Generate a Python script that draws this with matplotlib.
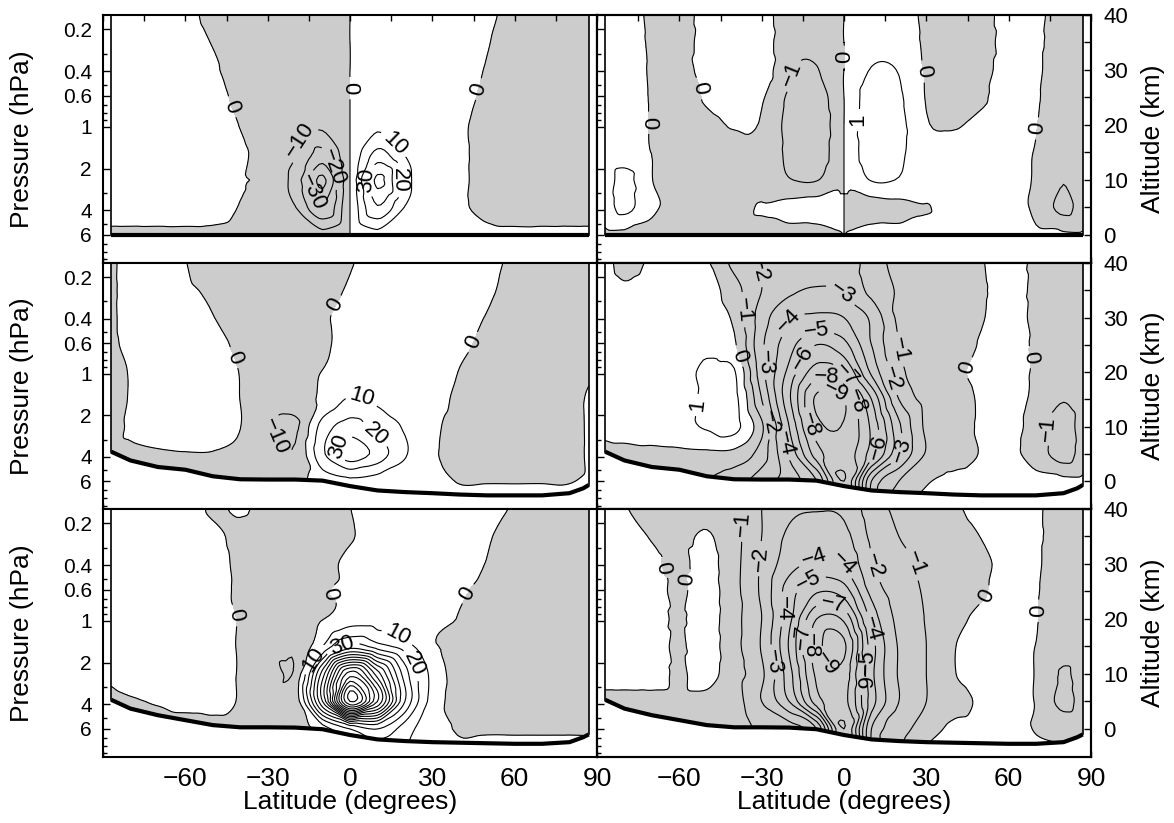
import matplotlib
matplotlib.use('Agg')
import matplotlib.pyplot as plt
import matplotlib.tri as mtri
import numpy as np

plt.rcParams['font.family'] = ['Liberation Sans', 'DejaVu Sans']
plt.rcParams['contour.negative_linestyle'] = 'solid'

# grid of the fields: latitude (deg) and altitude (km)
lat = [-87, -80, -70, -60, -50, -40, -30, -20, -10, 0, 10, 20, 30, 40, 50, 60, 70, 80, 87]
alt = [-5, 0, 5, 10, 15, 20, 25, 30, 35, 40]

# left column (contour step 10), rows bottom -> top
field_tl = [
    [-1.5, -1.5, -1.5, -1.5, -1.5, -2, -2, -4, -7, 0, 7, 4, 3, 2, 1.5, 1.5, 1.5, 1.5, 1.5],
    [-1.5, -1.5, -1.5, -1.5, -1.5, -2, -2, -4, -7, 0, 7, 4, 3, 2, 1.5, 1.5, 1.5, 1.5, 1.5],
    [4, 4, 4, 4, 3, -0.3, -2, -9.5, -29, 0, 29, 9.5, 3, 1, -2, -4, -4, -4, -4],
    [5, 5, 5, 5, 3, 0.5, -2, -14, -42, 0, 42, 14, 3, 1, -2, -4, -5, -5, -5],
    [5, 5, 5, 5, 3, 1, -3, -9, -22, 0, 22, 9, 3, 1, -2, -4, -5, -5, -5],
    [5, 5, 5, 5, 3, -0.2, -4, -6, -8, 0, 8, 6, 4, 1, -2, -4, -5, -5, -5],
    [5, 5, 5, 4, 2, -1.5, -5, -5, -5, 0, 5, 5, 5, 2, -1.3, -4, -5, -5, -5],
    [5, 5, 5, 4, 1, -3, -5, -5, -5, 0, 5, 5, 5, 3, -0.5, -3.5, -5, -5, -5],
    [5, 5, 4.5, 3, -0.3, -3, -5, -5, -4, 0, 4, 5, 5, 4, 0.4, -3, -4.5, -5, -5],
    [5, 5, 4, 2, -2, -4, -5, -5, -4, 0, 4, 5, 5, 4, 1.5, -2.5, -4, -5, -5],
]
field_ml = [
    [-1, -1, -1, -1, -1, -1, -2, -3, 3, 5, 5, 4, 3, 3, 3, 3, 3, 3, 2],
    [-1, -1, -1, -1, -1, -1, -2, -3, 5, 8, 6, 4, 2, -0.3, -0.3, -0.3, -0.3, -0.3, 1],
    [-1, -1, -0.5, -0.2, -0.2, -1, -4, -9, 18, 36, 26, 11, 1.5, -4, -3, -3, -4, -3, 1],
    [-3, 1, 3, 3, 3, 0.1, -9, -12, 14, 24, 16, 9, 2, -3, -3, -3, -4, -3, 1],
    [-3, 0.5, 4, 4, 3, -0.05, -3, -4, 2, 11, 8, 4, 3, -1.5, -3, -3, -4, -3, 1],
    [-3, 0.5, 4, 4, 3, -0.2, -4, -3, 0.2, 2.5, 4, 5, 3, -0.2, -2, -3, -4, -3, -1],
    [-2.5, 3, 5, 4, 2, -1.3, -4, -4, -0.8, 1.5, 4, 5, 4, 1, -1, -3, -4, -4, -3],
    [-2, 4, 5, 3, 0.2, -3, -5, -5, -1, 2.3, 4, 5, 5, 2, -0.3, -3, -4, -4, -4],
    [-2, 4, 4, 1, -1, -4, -5, -5, -2, 0.7, 4, 5, 5, 4, 1, -2, -4, -4, -4],
    [-2, 4, 4, 0.2, -3, -4, -5, -5, -3, -0.5, 3, 5, 5, 5, 2, -1.45, -4, -4, -4],
]
field_bl = [
    [-1, -1, -1, -1, -1, -1, -2, -4, 3, 10, 15, 8, 3, 2, 2, 2, 2, 2, 1],
    [-1, -1, -1, -1, -1, -1, -2, -4, 5, 20, 30, 15, 3, -0.5, -0.5, -0.5, -0.5, -0.5, -0.5],
    [-1.5, -0.5, 0.3, 0.8, 1, -0.3, -3, -6, 60, 160, 110, 40, 6, -3, -2, -2, -2, -2, -1],
    [1.5, 3, 3, 2, 1.5, -0.3, -3, -8, 55, 125, 85, 35, 7, -3, -2, -2, -3, -3, -1],
    [4, 4, 4, 3, 1.5, -0.3, -2, -8, 10, 35, 25, 15, 1.5, -1, -2, -2, -3, -3, -1],
    [4, 4, 4, 3, 1.5, -0.3, -3, -3, -0.3, 5, 6, 5, 2.5, -0.3, -1.5, -2, -3, -3, -1],
    [4, 4, 4, 3, 1.5, -0.7, -2.5, -2.5, -0.5, 1.5, 3, 4, 3, 0.6, -1, -2, -3, -3, -1],
    [4, 4, 4, 3, 1.5, -0.8, -2, -3, -2, 1.5, 3, 4, 4, 2, -0.2, -2, -3, -3, -1],
    [4, 4, 4, 3, 1, -1, -2, -3, -2, -0.5, 2.5, 4, 4, 3, 0.5, -2, -3, -3, -1],
    [4, 4, 4, 2, -0.5, 0.5, -1.5, -3, -2, -0.1, 3, 4, 4, 4, 2.3, -0.7, -3, -3, -1],
]

# right column (contour step 1)
field_tr = [
    [-0.2, -0.2, -0.2, -0.2, -0.25, -0.25, -0.3, -0.3, -0.35, 0, 0.35, 0.3, 0.3, 0.3, 0.3, 0.2, 0.05, 0.1, 0.1],
    [-0.2, -0.2, -0.2, -0.2, -0.25, -0.25, -0.3, -0.3, -0.35, 0, 0.35, 0.3, 0.3, 0.3, 0.3, 0.2, 0.05, 0.1, 0.1],
    [0.5, 1.3, 0.15, -0.2, -0.25, -0.2, 0.05, 0.3, 0.45, 0, -0.45, -0.3, -0.03, 0.2, 0.25, 0.25, -0.15, -1.3, -0.5],
    [0.5, 1.3, 0.02, -0.3, -0.3, -0.3, -0.3, -0.95, -1.05, 0, 1.05, 0.95, 0.3, 0.25, 0.25, 0.3, -0.1, -0.95, -0.5],
    [0.4, 0.5, -0.02, -0.3, -0.3, -0.2, -0.3, -1.2, -1.6, 0, 1.6, 1.2, 0.3, 0.2, 0.2, 0.3, -0.05, -0.5, -0.4],
    [0.35, 0.4, -0.05, -0.35, -0.2, 0.05, -0.08, -1.3, -1.7, 0, 1.7, 1.3, 0.08, -0.05, 0.15, 0.3, 0.02, -0.4, -0.35],
    [0.35, 0.4, -0.06, -0.4, 0.1, 0.4, 0.1, -1.15, -1.5, 0, 1.5, 1.15, -0.05, -0.3, -0.1, 0.3, 0.06, -0.35, -0.3],
    [0.35, 0.35, -0.08, -0.4, 0.4, 0.7, 0.6, -0.9, -1.05, 0, 1.05, 0.95, -0.1, -0.4, -0.25, 0.3, 0.1, -0.35, -0.3],
    [0.3, 0.35, -0.1, -0.35, 0.35, 0.7, 0.45, -0.6, -0.65, 0, 0.65, 0.6, -0.15, -0.45, -0.35, 0.3, 0.12, -0.3, -0.3],
    [0.3, 0.3, -0.12, -0.3, 0.3, 0.6, 0.3, -0.4, -0.4, 0, 0.45, 0.5, -0.2, -0.4, -0.3, 0.3, 0.15, -0.3, -0.3],
]
field_mr = [
    [-0.3, -0.3, -0.4, -0.6, -1.0, -1.5, -2.5, -3.5, -5.0, -9.0, -3.0, -0.5, 0.3, 0.3, 0.3, 0.3, 0.3, 0.3, 0.3],
    [-0.3, -0.3, -0.4, -0.6, -1.0, -1.5, -2.5, -3.5, -5.0, -9.0, -3.0, -1.0, -0.1, 0.2, 0.2, 0.2, 0.2, 0.2, 0.2],
    [-0.3, -0.3, -0.2, -0.2, -0.2, -0.3, -1.5, -4.2, -7.5, -8.5, -6.5, -3.2, -0.9, -0.3, 0.03, 0.2, -0.4, -1.5, -0.5],
    [0.3, 0.5, 0.5, 0.7, 1.1, 1.3, -0.8, -5.0, -8.6, -8.9, -6.8, -3.2, -0.8, -0.4, 0.1, 0.3, -0.4, -1.5, -0.5],
    [0.3, 0.4, 0.5, 0.6, 1.15, 1.3, -2.0, -5.8, -9.2, -9.0, -6.0, -2.0, -0.7, -0.4, 0.1, 0.3, -0.2, -0.95, -0.5],
    [0.3, 0.5, 0.6, 0.6, 1.2, 1.1, -2.6, -5.3, -7.5, -7.0, -3.8, -1.3, -0.6, -0.2, 0.2, 0.3, -0.1, -0.4, -0.4],
    [0.3, 0.4, 0.5, 0.6, 0.8, 0.15, -2.8, -4.6, -6.0, -5.3, -3.0, -1.0, -0.5, -0.3, 0.05, 0.3, -0.1, -0.3, -0.3],
    [0.3, 0.3, 0.3, 0.3, 0.5, -0.2, -2.5, -3.9, -4.2, -4.0, -2.8, -0.8, -0.5, -0.3, -0.05, 0.3, -0.15, -0.3, -0.3],
    [0.3, 0.1, 0.3, 0.4, 0.4, -0.6, -2.0, -2.8, -3.1, -2.9, -1.7, -0.9, -0.6, -0.4, -0.1, 0.3, -0.15, -0.3, -0.3],
    [0.2, -0.2, 0.1, 0.3, 0.1, -1.3, -2.1, -2.5, -2.6, -2.8, -1.4, -0.8, -0.6, -0.4, -0.05, 0.3, -0.15, -0.3, -0.3],
]
field_br = [
    [-0.2, -0.2, -0.2, -0.3, -0.3, -0.5, -1.2, -1.5, -3.0, -9.0, -3.0, -1.0, 0.3, 0.3, 0.3, 0.3, 0.3, 0.3, 0.3],
    [-0.2, -0.2, -0.2, -0.3, -0.3, -0.5, -1.2, -1.5, -3.0, -9.0, -3.0, -1.5, -0.5, 0.2, 0.2, 0.3, -0.05, -0.3, -0.2],
    [-0.2, -0.2, -0.2, -0.2, -0.2, -0.6, -2.0, -4.0, -7.5, -8.3, -4.5, -2.0, -1.0, -0.3, 0.1, 0.3, -0.05, -1.3, -0.6],
    [0.3, 0.3, 0.3, -0.1, 0.3, -0.6, -1.8, -4.6, -8.2, -8.6, -4.3, -1.9, -1.0, -0.05, 0.3, 0.3, -0.05, -1.1, -0.6],
    [0.3, 0.3, 0.3, -0.1, 0.4, -0.7, -2.1, -5.1, -8.6, -9.2, -4.5, -1.9, -1.0, -0.05, 0.3, 0.3, -0.02, -0.6, -0.5],
    [0.3, 0.3, 0.3, -0.1, 0.4, -0.7, -2.0, -4.7, -8.0, -7.8, -3.7, -1.7, -0.95, -0.3, 0.2, 0.3, 0.04, -0.5, -0.4],
    [0.3, 0.3, 0.3, -0.15, 0.4, -0.7, -2.2, -4.5, -5.9, -5.5, -2.7, -1.5, -0.9, -0.5, -0.1, 0.3, 0.05, -0.4, -0.3],
    [0.3, 0.3, 0.15, -0.2, 0.3, -0.7, -2.1, -3.6, -4.2, -4.0, -2.1, -1.3, -0.85, -0.5, -0.2, 0.25, 0.08, -0.35, -0.3],
    [0.3, 0.3, -0.05, -0.25, 0.1, -0.7, -2.0, -3.2, -3.5, -3.3, -1.8, -1.0, -0.8, -0.4, 0.02, 0.3, 0.1, -0.3, -0.3],
    [0.3, 0.05, -0.3, -0.3, -0.3, -0.6, -2.0, -2.8, -2.95, -2.8, -1.5, -0.8, -0.5, -0.15, 0.3, 0.4, 0.1, -0.3, -0.3],
]

# surface (km)
surf_lat = [-87, -80, -70, -60, -50, -40, -30, -20, -10, 0, 10, 20, 30, 40, 50, 60, 70, 80, 85, 87]
surf_top = [0.0] * 20
surf_mid = [5.4, 3.8, 2.6, 2.1, 0.9, 0.35, 0.3, 0.3, 0.1, -0.9, -1.7, -2.0, -2.2, -2.45, -2.6, -2.6, -2.6, -2.2, -1.3, -0.7]
surf_bot = [5.3, 3.7, 2.5, 1.6, 0.7, 0.3, 0.3, 0.25, -0.05, -1.1, -1.9, -2.2, -2.4, -2.5, -2.6, -2.7, -2.7, -2.4, -1.5, -1.0]

# label spots (lat, km)
lab_tl = [(-43, 23.3), (0, 26.7), (47.4, 26.4), (-16, 17.1), (-5.5, 12.4), (-13.8, 7.8),
          (16.4, 16.7), (18, 10), (5.5, 10)]
lab_tr = [(-71.4, 20.4), (-51.8, 26.7), (0, 32.4), (27.3, 29.6), (71, 19.3), (-15.3, 28.5), (4.7, 20.9)]
lab_ml = [(-42, 22.7), (-6.8, 32.7), (44.8, 25.5), (-25.6, 8.8), (2.9, 13.9), (9, 8.5), (-4.4, 6.4)]
lab_mr = [(-39.6, 22.7), (44.8, 20.9), (67.3, 22.7), (-51.1, 13.8), (-39, 31.2), (20.5, 24.2),
          (73.4, 9.7), (-30.5, 38.8), (-26.8, 10.9), (16.9, 18.8), (-29.3, 21.8), (-2.5, 33.3),
          (21.7, 5.5), (-20.2, 29.4), (-20.8, 7), (-9.8, 27), (-15.9, 22.7), (1.7, 19.7),
          (13.2, 6.1), (3.5, 14.5), (-6.2, 20), (-13.5, 10.3), (-4.4, 14.8)]
lab_bl = [(-41.4, 20.7), (-10.4, 24.4), (43.6, 24.4), (19.3, 19.1), (-3.2, 15.5), (23.6, 11.8), (-14.1, 13)]
lab_br = [(-67.5, 29.1), (-56, 27.3), (51.5, 24.2), (71.5, 21.5), (-37.8, 37.3), (25.4, 30),
          (-29.3, 30.9), (10.8, 29.7), (-26.8, 12.1), (-12.3, 34.2), (-2.5, 29.1), (-22, 21.8),
          (9.6, 18.2), (-12.3, 26.4), (9.6, 12.1), (-3.8, 23.3), (-15.9, 16.7), (7.2, 9.4),
          (-12.3, 15.2), (-4.4, 12.4)]

p_major = [0.2, 0.4, 0.6, 1, 2, 4, 6]
p_minor = [0.3, 0.5, 0.7, 0.8, 0.9, 3, 5, 7, 8, 9]
H = 11.0


def p2z(p):
    return -H * np.log(np.asarray(p, dtype=float) / 6.0)


def fmt(v):
    return ('%d' % round(v)).replace('-', '\u2212')


LA, AL = np.meshgrid(lat, alt)
tri = mtri.Triangulation(LA.ravel(), AL.ravel())
refiner = mtri.UniformTriRefiner(tri)


def draw(ax, field, levels, surf, labels):
    zv = np.array(field, dtype=float).ravel()
    interp = mtri.CubicTriInterpolator(tri, zv, kind='geom')
    tri_f, z_f = refiner.refine_field(zv, triinterpolator=interp, subdiv=3)
    ax.tricontourf(tri_f, z_f, levels=[-1e6, 0], colors=['#cccccc'], zorder=1)
    cs = ax.tricontour(tri_f, z_f, levels=levels, colors='k', linewidths=0.8, zorder=2)
    ax.fill_between(surf_lat, surf, -6, color='white', zorder=2.2)
    ax.plot(surf_lat, surf, color='k', lw=3, zorder=2.4, solid_capstyle='butt')
    ax.plot([lat[0], lat[0]], [surf[0], 40], color='k', lw=1.2, zorder=2.3)
    ax.plot([lat[-1], lat[-1]], [surf[-1], 40], color='k', lw=1.2, zorder=2.3)
    ax.clabel(cs, fmt=fmt, inline=True, manual=labels, fontsize=16)


fig = plt.figure(figsize=(11.74, 8.23), dpi=100)
rows = [(15, 263), (263, 509), (509, 757)]
cols = [103, 597]
left_fields = [field_tl, field_ml, field_bl]
right_fields = [field_tr, field_mr, field_br]
surfs = [surf_top, surf_mid, surf_bot]
left_labs = [lab_tl, lab_ml, lab_bl]
right_labs = [lab_tr, lab_mr, lab_br]
lev_left = np.arange(-40, 190, 10)
lev_right = np.arange(-10, 3, 1)

for i, (t, b) in enumerate(rows):
    for j, c in enumerate(cols):
        ax = fig.add_axes([c / 1174, 1 - b / 823, 494 / 1174, (b - t) / 823])
        ax.set_xlim(-90, 90)
        ax.set_ylim(-5.1, 40)
        if j == 0:
            draw(ax, left_fields[i], lev_left, surfs[i], left_labs[i])
        else:
            draw(ax, right_fields[i], lev_right, surfs[i], right_labs[i])
        for s in ax.spines.values():
            s.set_linewidth(1.5)
        ax.set_xticks([-90, -60, -30, 0, 30, 60, 90])
        ax.set_xticks([-75, -45, -15, 15, 45, 75], minor=True)
        ax.set_xticklabels(['', '\u221260', '\u221230', '0', '30', '60', '90'])
        ax.tick_params(axis='x', which='both', direction='in', length=4, width=1,
                       top=(i == 0), bottom=True, labelbottom=(i == 2), labelsize=19, pad=7)
        ax.set_yticks(p2z(p_major))
        ax.set_yticks(p2z(p_minor), minor=True)
        ax.set_yticklabels(['0.2', '0.4', '0.6', '1', '2', '4', '6'])
        ax.tick_params(axis='y', which='major', direction='in', length=5, width=1,
                       left=True, right=False, labelleft=(j == 0), labelsize=15, pad=8)
        ax.tick_params(axis='y', which='minor', direction='in', length=3, width=1,
                       left=True, right=False)
        if j == 1:
            ax2 = ax.twinx()
            ax2.set_ylim(-5.1, 40)
            ax2.set_yticks([0, 10, 20, 30, 40])
            ax2.set_yticks([5, 15, 25, 35], minor=True)
            ax2.tick_params(axis='y', which='both', direction='in', length=5, width=1,
                            labelsize=16, pad=9)
            for s in ax2.spines.values():
                s.set_linewidth(1.5)
            fig.text(1153 / 1174, 1 - (t + b) / 2 / 823, 'Altitude (km)', rotation=90,
                     ha='center', va='center', fontsize=19)
        else:
            fig.text(22 / 1174, 1 - (t + b) / 2 / 823, 'Pressure (hPa)', rotation=90,
                     ha='center', va='center', fontsize=19)

fig.text(350 / 1174, 1 - 802 / 823, 'Latitude (degrees)', ha='center', va='center', fontsize=19)
fig.text(844 / 1174, 1 - 802 / 823, 'Latitude (degrees)', ha='center', va='center', fontsize=19)

fig.savefig('out.png', dpi=100)
